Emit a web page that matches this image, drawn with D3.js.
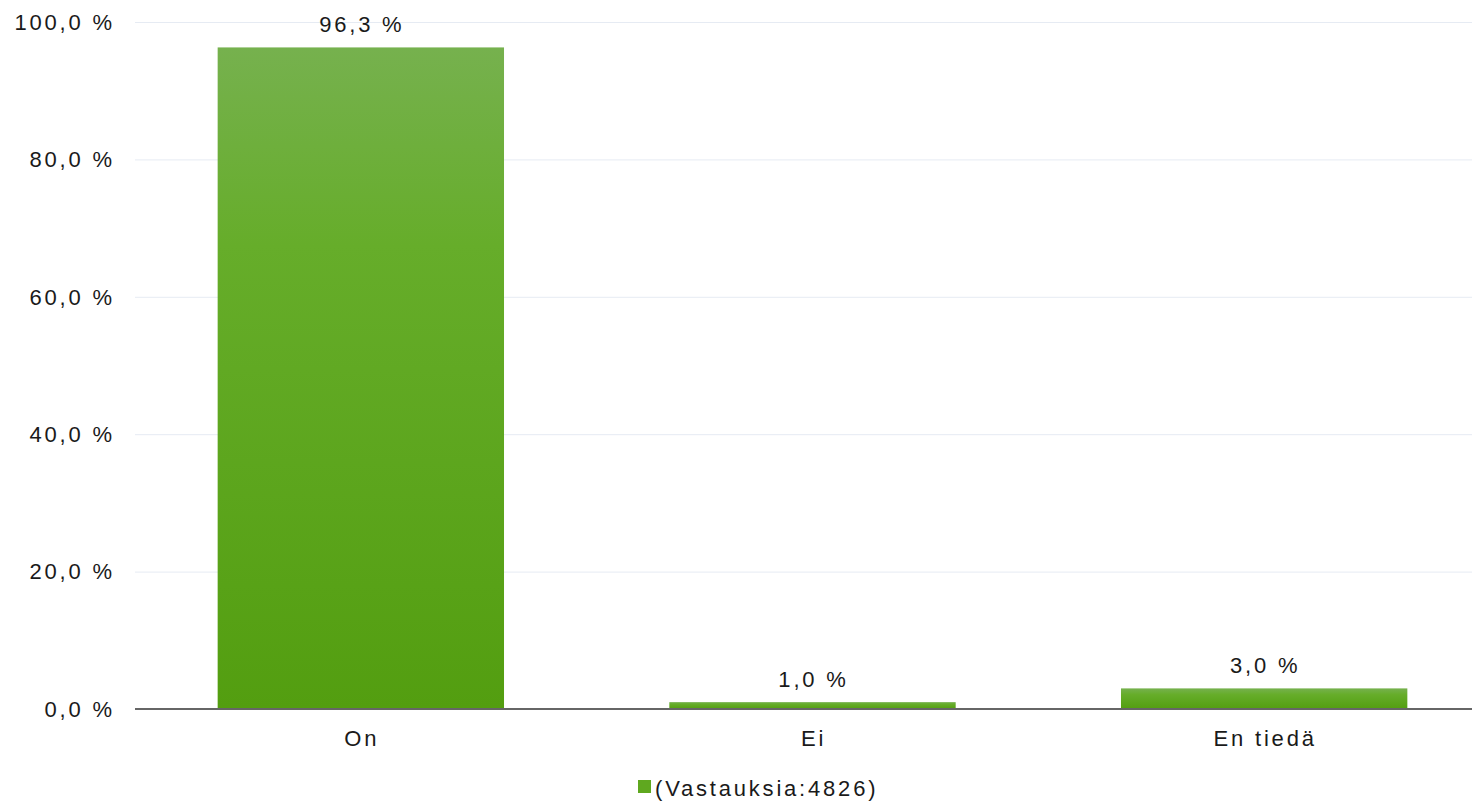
<!DOCTYPE html>
<html>
<head>
<meta charset="utf-8">
<script src="https://cdn.jsdelivr.net/npm/d3@7"></script>
<style>
  body { margin: 0; background: #fff; }
  svg { display: block; font-family: "Liberation Sans", Arial, sans-serif; }
</style>
</head>
<body>
<div class="chart"></div>
<script>
const categories = ['On', 'Ei', 'En tiedä'];
const values = [96.3, 1.0, 3.0];
const yTicks = [0, 20, 40, 60, 80, 100];
const legendLabel = '(Vastauksia:4826)';

const w = 1472;
const h = 801;
const padLeft = 135;
const padTop = 22;
const baseY = 709;
const fSize = 22;
const spacing = 2.8;

const fmt = (v) => v.toFixed(1).replace('.', ',') + ' %';

const svg = d3.select('div.chart')
  .append('svg')
  .attr('width', w)
  .attr('height', h);

const grad = svg.append('defs')
  .append('linearGradient')
  .attr('id', 'barGrad')
  .attr('x1', 0).attr('y1', 0).attr('x2', 0).attr('y2', 1);
grad.append('stop').attr('offset', '0%').attr('stop-color', '#76b14e');
grad.append('stop').attr('offset', '30%').attr('stop-color', '#66ad2a');
grad.append('stop').attr('offset', '100%').attr('stop-color', '#539e10');

const xScale = d3.scaleBand()
  .domain(categories)
  .range([padLeft, 1490])
  .paddingInner(0.366)
  .paddingOuter(0.183);

const yScale = d3.scaleLinear()
  .domain([0, 100])
  .range([baseY, padTop]);

// gridlines
svg.append('g')
  .selectAll('line')
  .data(yTicks.filter((d) => d > 0))
  .enter()
  .append('line')
  .attr('x1', padLeft)
  .attr('x2', w)
  .attr('y1', (d) => yScale(d) + 0.5)
  .attr('y2', (d) => yScale(d) + 0.5)
  .attr('stroke', '#e6ebf3')
  .attr('stroke-width', 1);

// y tick labels
svg.append('g')
  .selectAll('text')
  .data(yTicks)
  .enter()
  .append('text')
  .text((d) => fmt(d))
  .attr('x', 112 + spacing)
  .attr('y', (d) => yScale(d))
  .attr('dy', '0.35em')
  .attr('text-anchor', 'end')
  .attr('font-size', fSize)
  .attr('letter-spacing', spacing)
  .attr('fill', '#1a1a1a');

// bars
svg.append('g')
  .selectAll('rect')
  .data(values)
  .enter()
  .append('rect')
  .attr('x', (d, i) => xScale(categories[i]))
  .attr('y', (d) => yScale(d))
  .attr('width', xScale.bandwidth())
  .attr('height', (d) => baseY - yScale(d))
  .attr('fill', 'url(#barGrad)');

// value labels
svg.append('g')
  .selectAll('text')
  .data(values)
  .enter()
  .append('text')
  .text((d) => fmt(d))
  .attr('x', (d, i) => xScale(categories[i]) + xScale.bandwidth() / 2 + 1)
  .attr('y', (d) => yScale(d) - 15)
  .attr('text-anchor', 'middle')
  .attr('font-size', fSize)
  .attr('letter-spacing', spacing)
  .attr('fill', '#1a1a1a');

// x axis line
svg.append('line')
  .attr('x1', padLeft)
  .attr('x2', w)
  .attr('y1', baseY)
  .attr('y2', baseY)
  .attr('stroke', '#666')
  .attr('stroke-width', 2);

// category labels
svg.append('g')
  .selectAll('text')
  .data(categories)
  .enter()
  .append('text')
  .text((d) => d)
  .attr('x', (d) => xScale(d) + xScale.bandwidth() / 2 + 1)
  .attr('y', 746)
  .attr('text-anchor', 'middle')
  .attr('font-size', fSize)
  .attr('letter-spacing', spacing)
  .attr('fill', '#1a1a1a');

// legend
svg.append('rect')
  .attr('x', 638)
  .attr('y', 780)
  .attr('width', 13)
  .attr('height', 13)
  .attr('fill', '#5fa81f');

svg.append('text')
  .text(legendLabel)
  .attr('x', 655)
  .attr('y', 796)
  .attr('font-size', fSize)
  .attr('letter-spacing', spacing)
  .attr('fill', '#1a1a1a');
</script>
</body>
</html>
